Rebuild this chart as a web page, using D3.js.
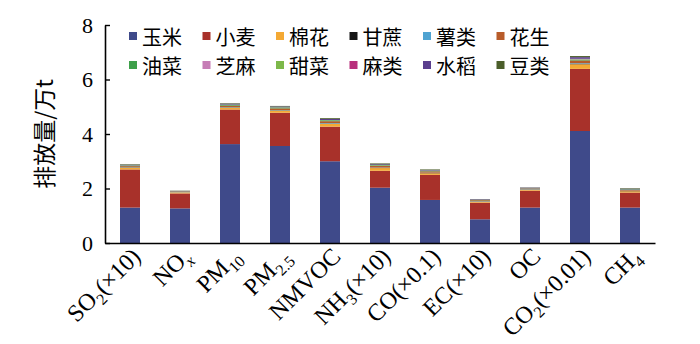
<!DOCTYPE html>
<html>
<head>
<meta charset="utf-8">
<script src="https://cdn.jsdelivr.net/npm/d3@7"></script>
<style>
  html, body { margin: 0; padding: 0; background: #fff; }
  svg { display: block; }
</style>
</head>
<body>
<svg id="chart" width="700" height="344"></svg>
<script>
// Pollutant categories (x axis); each entry lists the label pieces [text, isSubscript, isItalic]
const categories = ["SO2(×10)", "NOx", "PM10", "PM2.5", "NMVOC", "NH3(×10)", "CO(×0.1)", "EC(×10)", "OC", "CO2(×0.01)", "CH4"];
const categoryLabels = [
  [["SO"], ["2", 1], ["(×10)"]],
  [["NO"], ["x", 1, 1]],
  [["PM"], ["10", 1]],
  [["PM"], ["2.5", 1]],
  [["NMVOC"]],
  [["NH"], ["3", 1], ["(×10)"]],
  [["CO(×0.1)"]],
  [["EC(×10)"]],
  [["OC"]],
  [["CO"], ["2", 1], ["(×0.01)"]],
  [["CH"], ["4", 1]]
];

// Crop names, stacked bottom to top
const crops = ["玉米", "小麦", "棉花", "甘蔗", "薯类", "花生", "油菜", "芝麻", "甜菜", "麻类", "水稻", "豆类"];

// Emissions by crop (10^4 t), one value per category
const corn      = [1.30, 1.27, 3.63, 3.56, 3.00, 2.03, 1.58, 0.87, 1.30, 4.11, 1.30];
const wheat     = [1.40, 0.55, 1.27, 1.22, 1.27, 0.62, 0.92, 0.61, 0.62, 2.28, 0.55];
const cotton    = [0.06, 0.04, 0.07, 0.08, 0.10, 0.10, 0.06, 0.04, 0.04, 0.17, 0.05];
const sugarcane = [0.01, 0.00, 0.01, 0.01, 0.01, 0.01, 0.01, 0.01, 0.01, 0.02, 0.01];
const tubers    = [0.01, 0.01, 0.01, 0.01, 0.02, 0.01, 0.01, 0.01, 0.01, 0.02, 0.01];
const peanut    = [0.04, 0.02, 0.05, 0.06, 0.07, 0.06, 0.05, 0.03, 0.02, 0.10, 0.03];
const rapeseed  = [0.02, 0.01, 0.03, 0.03, 0.03, 0.02, 0.02, 0.01, 0.01, 0.03, 0.02];
const sesame    = [0.00, 0.00, 0.00, 0.00, 0.00, 0.00, 0.00, 0.00, 0.00, 0.01, 0.00];
const sugarbeet = [0.01, 0.00, 0.01, 0.01, 0.01, 0.01, 0.01, 0.00, 0.00, 0.01, 0.00];
const hemp      = [0.00, 0.00, 0.00, 0.00, 0.00, 0.00, 0.00, 0.00, 0.00, 0.01, 0.00];
const rice      = [0.02, 0.01, 0.03, 0.03, 0.04, 0.03, 0.02, 0.02, 0.02, 0.06, 0.02];
const beans     = [0.02, 0.01, 0.02, 0.02, 0.03, 0.03, 0.02, 0.01, 0.01, 0.04, 0.02];

const seriesValues = [corn, wheat, cotton, sugarcane, tubers, peanut, rapeseed, sesame, sugarbeet, hemp, rice, beans];

// Y axis ticks
const yTicks = [0, 2, 4, 6, 8];

const colors = ["#3f4a8a", "#a8312a", "#f4a934", "#161616", "#4fa3d1", "#b85c2a",
                "#3ea04a", "#c67db6", "#7db84a", "#b8307c", "#5b3f8e", "#4b5e2a"];

// Build a table for d3.stack
const table = categories.map((c, i) => {
  const row = { category: c };
  crops.forEach((k, j) => { row[k] = seriesValues[j][i]; });
  return row;
});

const svg = d3.select("#chart");
const plot = { left: 105, right: 655, top: 25, bottom: 243 };

const x = d3.scaleBand().domain(categories).range([plot.left, plot.right]).paddingInner(0.6).paddingOuter(0.3);
const y = d3.scaleLinear().domain([0, 8]).range([plot.bottom, plot.top]);
const color = d3.scaleOrdinal().domain(crops).range(colors);

const stacked = d3.stack().keys(crops)(table);

// Bars
svg.append("g")
  .selectAll("g")
  .data(stacked)
  .join("g")
  .attr("fill", d => color(d.key))
  .selectAll("rect")
  .data(d => d)
  .join("rect")
  .attr("x", d => x(d.data.category))
  .attr("width", x.bandwidth())
  .attr("y", d => y(d[1]))
  .attr("height", d => y(d[0]) - y(d[1]));

const serif = "'Liberation Serif', 'Times New Roman', serif";
const cjk = "'Noto Sans CJK SC', sans-serif";

// Y axis with inward ticks
const yAxis = svg.append("g")
  .attr("transform", `translate(${plot.left},0)`)
  .call(d3.axisLeft(y).tickValues(yTicks).tickSizeInner(-5).tickSizeOuter(0).tickPadding(12));
yAxis.select(".domain").attr("stroke", "#000").attr("stroke-width", 1.6);
yAxis.selectAll(".tick line").attr("stroke", "#000").attr("stroke-width", 1.4);
yAxis.selectAll(".tick text")
  .attr("font-family", serif)
  .attr("font-size", 22)
  .attr("fill", "#000");

// X axis baseline
const xAxis = svg.append("g")
  .attr("transform", `translate(0,${plot.bottom})`)
  .call(d3.axisBottom(x).tickSize(0).tickFormat(""));
xAxis.select(".domain").attr("stroke", "#000").attr("stroke-width", 1.6);

// Rotated category labels with subscripts
const labelG = svg.append("g");
categories.forEach((c, i) => {
  const cx = x(c) + x.bandwidth() / 2;
  const t = labelG.append("text")
    .attr("transform", `translate(${cx + 12},258) rotate(-45)`)
    .attr("text-anchor", "end")
    .attr("font-family", serif)
    .attr("font-size", 24)
    .attr("fill", "#000");
  let shifted = false;
  categoryLabels[i].forEach(part => {
    const ts = t.append("tspan").text(part[0]);
    if (part[1]) {
      ts.attr("font-size", 16).attr("dy", shifted ? 0 : 6);
      shifted = true;
    } else if (shifted) {
      ts.attr("dy", -6);
      shifted = false;
    }
    if (part[2]) ts.attr("font-style", "italic");
  });
});

// Y axis title
svg.append("text")
  .attr("transform", "translate(43,134) rotate(-90)")
  .attr("text-anchor", "middle")
  .attr("dominant-baseline", "central")
  .attr("font-family", cjk)
  .attr("font-size", 23)
  .attr("fill", "#000")
  .text("排放量/万t");

// Legend: two rows of six
const legend = svg.append("g");
crops.forEach((k, i) => {
  const col = i % 6, row = Math.floor(i / 6);
  const lx = 129 + col * 73.5, ly = 36 + row * 29;
  legend.append("rect")
    .attr("x", lx).attr("y", ly - 4)
    .attr("width", 8).attr("height", 8)
    .attr("fill", color(k));
  legend.append("text")
    .attr("x", lx + 13).attr("y", ly)
    .attr("dominant-baseline", "central")
    .attr("font-family", cjk)
    .attr("font-size", 20)
    .attr("fill", "#000")
    .text(k);
});
</script>
</body>
</html>
